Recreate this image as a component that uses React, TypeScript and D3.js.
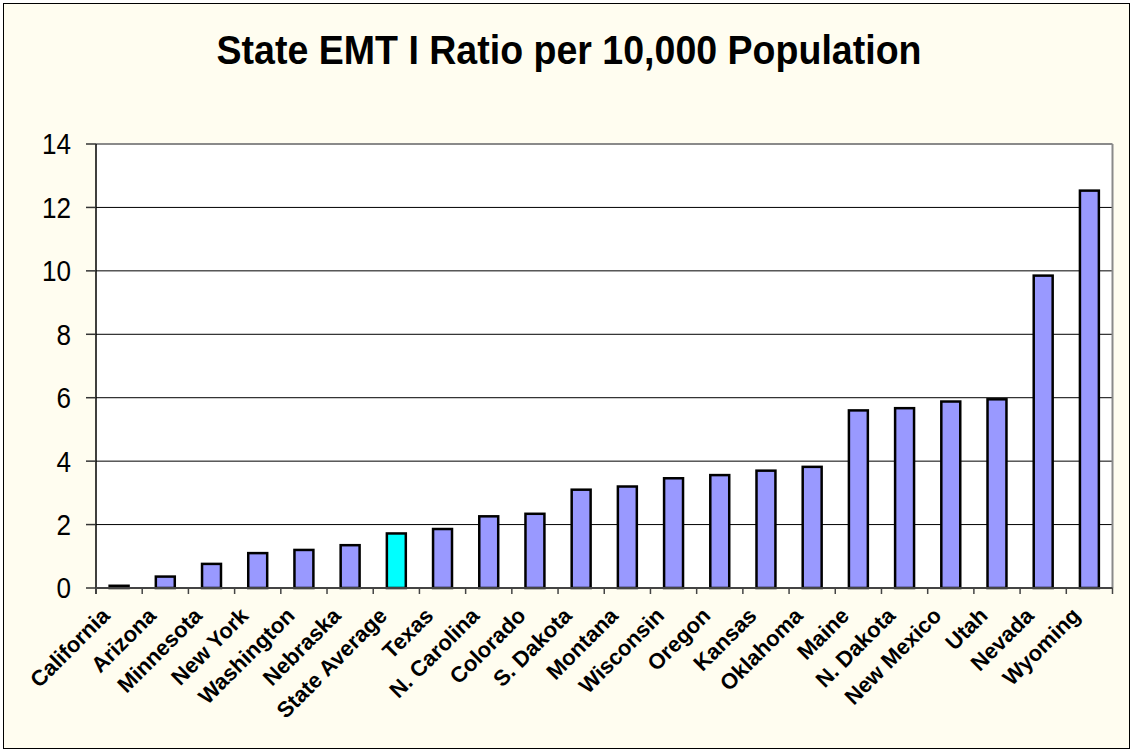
import React from "react";
import * as d3 from "d3";

const states: string[] = [
  "California", "Arizona", "Minnesota", "New York", "Washington", "Nebraska",
  "State Average", "Texas", "N. Carolina", "Colorado", "S. Dakota", "Montana",
  "Wisconsin", "Oregon", "Kansas", "Oklahoma", "Maine", "N. Dakota",
  "New Mexico", "Utah", "Nevada", "Wyoming",
];

const ratios: number[] = [
  0.07, 0.36, 0.76, 1.1, 1.2, 1.35, 1.72, 1.86, 2.26, 2.34, 3.1, 3.2,
  3.46, 3.56, 3.7, 3.82, 5.6, 5.67, 5.88, 5.95, 9.85, 12.53,
];

const yTicks: number[] = [0, 2, 4, 6, 8, 10, 12, 14];

const title = "State EMT I Ratio per 10,000 Population";
const highlighted = "State Average";

const W = 1133;
const H = 752;
const plot = { left: 96, right: 1112.5, top: 144, bottom: 588 };
const FONT = "'Liberation Sans', Arial, Helvetica, sans-serif";

export default function App() {
  const x = d3
    .scaleBand<string>()
    .domain(states)
    .range([plot.left, plot.right])
    .paddingInner(0.59)
    .paddingOuter(0.295);

  const y = d3.scaleLinear().domain([0, 14]).range([plot.bottom, plot.top]);

  const step = x.step();
  const boundaries = d3.range(states.length + 1).map((i) => plot.left + i * step);

  return (
    <svg
      width={W}
      height={H}
      style={{ position: "absolute", left: 0, top: 0, background: "#ffffff" }}
    >
      {/* chart area */}
      <rect x={3.5} y={3.5} width={1126} height={745} fill="#fffdf0" stroke="#000" strokeWidth={1} />

      <text
        x={569}
        y={64}
        textAnchor="middle"
        fontFamily={FONT}
        fontWeight="bold"
        fontSize={41}
        textLength={705}
        lengthAdjust="spacingAndGlyphs"
        fill="#000"
      >
        {title}
      </text>

      {/* plot area */}
      <rect
        x={plot.left}
        y={plot.top}
        width={plot.right - plot.left}
        height={plot.bottom - plot.top}
        fill="#ffffff"
      />

      {/* horizontal gridlines */}
      {yTicks.slice(1, -1).map((t) => (
        <line
          key={`g${t}`}
          x1={plot.left}
          x2={plot.right}
          y1={y(t)}
          y2={y(t)}
          stroke="#000"
          strokeWidth={1}
        />
      ))}

      {/* plot frame (top and right) */}
      <line x1={plot.left} x2={plot.right} y1={y(14)} y2={y(14)} stroke="#8a8a8a" strokeWidth={2} />
      <line x1={plot.right} x2={plot.right} y1={plot.top} y2={plot.bottom} stroke="#8a8a8a" strokeWidth={2} />

      {/* bars */}
      {states.map((s, i) => (
        <rect
          key={s}
          x={x(s)}
          y={y(ratios[i])}
          width={x.bandwidth()}
          height={y(0) - y(ratios[i])}
          fill={s === highlighted ? "#00ffff" : "#9999ff"}
          stroke="#000"
          strokeWidth={2.5}
        />
      ))}

      {/* y axis */}
      <line x1={plot.left} x2={plot.left} y1={plot.top} y2={plot.bottom + 6} stroke="#000" strokeWidth={1.5} />
      {yTicks.map((t) => (
        <g key={`y${t}`}>
          <line x1={plot.left - 10} x2={plot.left} y1={y(t)} y2={y(t)} stroke="#333" strokeWidth={1.5} />
          <text
            x={71}
            y={y(t)}
            dy="0.36em"
            textAnchor="end"
            fontFamily={FONT}
            fontSize={29}
            fill="#000"
            transform={`translate(71 0) scale(0.9 1) translate(-71 0)`}
          >
            {t}
          </text>
        </g>
      ))}

      {/* x axis */}
      <line x1={plot.left} x2={plot.right} y1={plot.bottom} y2={plot.bottom} stroke="#444" strokeWidth={2} />
      {boundaries.map((bx, i) => (
        <line key={`t${i}`} x1={bx} x2={bx} y1={plot.bottom} y2={plot.bottom + 6} stroke="#444" strokeWidth={1.5} />
      ))}
      {states.map((s) => {
        const cx = (x(s) as number) + x.bandwidth() / 2 - 8;
        const cy = plot.bottom + 29;
        return (
          <text
            key={`l${s}`}
            x={cx}
            y={cy}
            textAnchor="end"
            fontFamily={FONT}
            fontWeight="bold"
            fontSize={22}
            fill="#000"
            transform={`rotate(-45 ${cx} ${cy})`}
          >
            {s}
          </text>
        );
      })}
    </svg>
  );
}
